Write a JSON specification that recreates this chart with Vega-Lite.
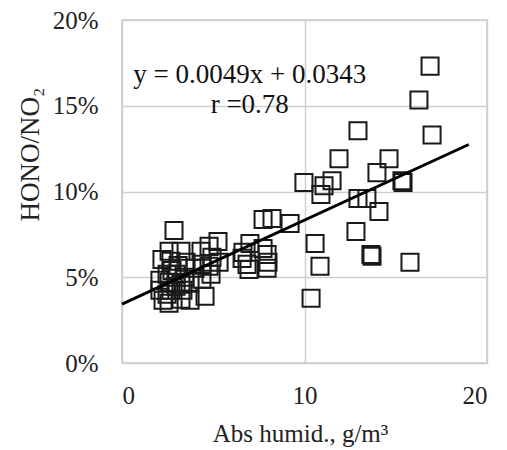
{
  "$schema": "https://vega.github.io/schema/vega-lite/v6.json",
  "autosize": "none",
  "width": 365,
  "height": 343,
  "padding": {"left": 122, "top": 20, "right": 20, "bottom": 87},
  "background": "white",
  "config": {
    "font": "Liberation Serif",
    "view": {"stroke": "#c8c8c8", "strokeWidth": 1.5},
    "axis": {
      "grid": true,
      "gridColor": "#d0d0d0",
      "gridWidth": 1.5,
      "domain": false,
      "ticks": false,
      "tickSize": 0,
      "labelFont": "Liberation Serif",
      "labelFontSize": 25,
      "labelColor": "#222",
      "titleFont": "Liberation Serif",
      "titleFontWeight": "normal",
      "titleColor": "#222"
    }
  },
  "datasets": {
    "pts": [
      {"x": 16.88, "y": 0.1731}, {"x": 16.27, "y": 0.1534}, {"x": 16.99, "y": 0.1330},
      {"x": 12.93, "y": 0.1354}, {"x": 11.89, "y": 0.1191}, {"x": 14.63, "y": 0.1191},
      {"x": 13.97, "y": 0.1110}, {"x": 15.34, "y": 0.1063}, {"x": 15.40, "y": 0.1052},
      {"x": 9.97, "y": 0.1052}, {"x": 11.51, "y": 0.1063}, {"x": 11.07, "y": 0.1034},
      {"x": 10.90, "y": 0.0982}, {"x": 12.93, "y": 0.0959}, {"x": 13.42, "y": 0.0959},
      {"x": 14.08, "y": 0.0883}, {"x": 12.82, "y": 0.0767}, {"x": 10.58, "y": 0.0697},
      {"x": 13.64, "y": 0.0633}, {"x": 13.70, "y": 0.0622}, {"x": 15.78, "y": 0.0587},
      {"x": 10.85, "y": 0.0564}, {"x": 10.36, "y": 0.0378},
      {"x": 7.73, "y": 0.0837}, {"x": 8.22, "y": 0.0842}, {"x": 9.21, "y": 0.0813},
      {"x": 6.63, "y": 0.0645}, {"x": 7.01, "y": 0.0697}, {"x": 7.73, "y": 0.0668},
      {"x": 7.95, "y": 0.0633}, {"x": 6.85, "y": 0.0575}, {"x": 6.96, "y": 0.0546},
      {"x": 7.95, "y": 0.0552}, {"x": 8.00, "y": 0.0587}, {"x": 6.58, "y": 0.0610},
      {"x": 5.26, "y": 0.0709}, {"x": 4.77, "y": 0.0680}, {"x": 4.33, "y": 0.0651},
      {"x": 4.93, "y": 0.0616}, {"x": 4.38, "y": 0.0575}, {"x": 4.77, "y": 0.0564},
      {"x": 4.88, "y": 0.0517}, {"x": 4.38, "y": 0.0488}, {"x": 4.55, "y": 0.0389},
      {"x": 5.32, "y": 0.0587}, {"x": 4.00, "y": 0.0552}, {"x": 3.73, "y": 0.0471},
      {"x": 2.85, "y": 0.0773}, {"x": 2.58, "y": 0.0651}, {"x": 3.23, "y": 0.0651},
      {"x": 2.19, "y": 0.0604}, {"x": 2.68, "y": 0.0593}, {"x": 2.47, "y": 0.0517},
      {"x": 2.96, "y": 0.0517}, {"x": 3.45, "y": 0.0500}, {"x": 2.58, "y": 0.0471},
      {"x": 3.23, "y": 0.0459}, {"x": 2.68, "y": 0.0424}, {"x": 2.25, "y": 0.0366},
      {"x": 2.58, "y": 0.0349}, {"x": 3.23, "y": 0.0372}, {"x": 2.47, "y": 0.0401},
      {"x": 2.96, "y": 0.0447}, {"x": 2.08, "y": 0.0482}, {"x": 3.07, "y": 0.0569},
      {"x": 3.51, "y": 0.0587}, {"x": 2.74, "y": 0.0540}, {"x": 3.34, "y": 0.0424},
      {"x": 3.73, "y": 0.0366}, {"x": 2.08, "y": 0.0424}
    ],
    "fit": [{"x": 0, "y": 0.0343}, {"x": 19, "y": 0.1274}],
    "labels": [
      {"x": 7.0, "y": 0.1633, "t": "y = 0.0049x + 0.0343"},
      {"x": 7.0, "y": 0.1458, "t": "r =0.78"}
    ]
  },
  "encoding": {
    "x": {
      "field": "x", "type": "quantitative",
      "scale": {"domain": [0, 20], "nice": false, "zero": false},
      "axis": {"values": [0, 10, 20], "title": "Abs humid., g/m³", "titleFontSize": 25,
               "labelPadding": 20, "titleX": 178, "titleY": 70, "titleBaseline": "middle"}
    },
    "y": {
      "field": "y", "type": "quantitative",
      "scale": {"domain": [0, 0.2], "nice": false, "zero": false},
      "axis": {"values": [0, 0.05, 0.1, 0.15, 0.2], "format": ".0%", "title": "HONO/NO₂",
               "titleFontSize": 27, "labelPadding": 24, "titleX": -92, "titleY": 134,
               "titleBaseline": "middle"}
    }
  },
  "layer": [
    {
      "data": {"name": "pts"},
      "mark": {"type": "point", "shape": "square", "filled": false, "size": 290,
               "stroke": "#1a1a1a", "strokeWidth": 2, "opacity": 1}
    },
    {
      "data": {"name": "fit"},
      "mark": {"type": "line", "color": "black", "strokeWidth": 3}
    },
    {
      "data": {"name": "labels"},
      "mark": {"type": "text", "font": "Liberation Serif", "fontSize": 27, "align": "center",
               "baseline": "alphabetic", "color": "#111"},
      "encoding": {"text": {"field": "t"}}
    }
  ]
}
